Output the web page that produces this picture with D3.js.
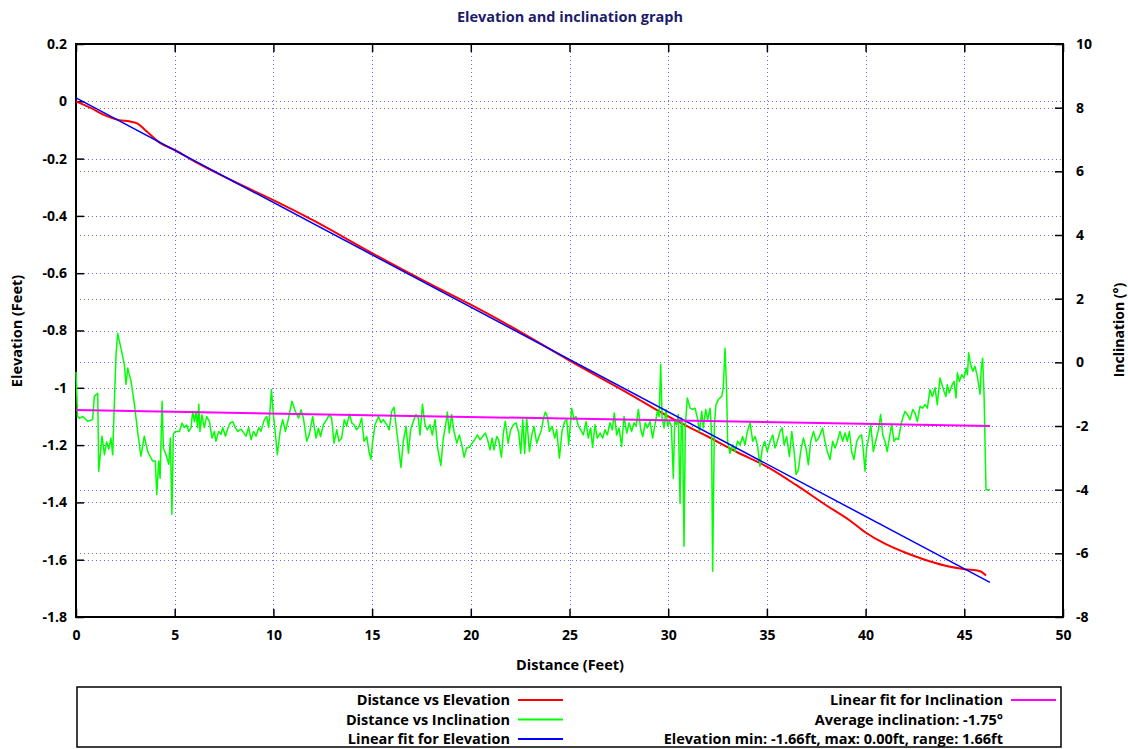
<!DOCTYPE html>
<html>
<head>
<meta charset="utf-8">
<script src="https://cdn.jsdelivr.net/npm/d3@7"></script>
<style>
  body { margin: 0; background: #fff; }
  svg text { font-family: "Open Sans", "Noto Sans", sans-serif; font-weight: bold; }
</style>
</head>
<body>
<div id="chart"></div>
<script>
// tick values
var distTicks = [0, 5, 10, 15, 20, 25, 30, 35, 40, 45, 50];
var elevTicks = [0.2, 0, -0.2, -0.4, -0.6, -0.8, -1, -1.2, -1.4, -1.6, -1.8];
var inclTicks = [10, 8, 6, 4, 2, 0, -2, -4, -6, -8];

// Distance vs Elevation (feet)
var elevDist = [0, 0.8, 1.5, 2.2, 2.7, 3.1, 3.5, 4.3, 5, 6, 8, 10, 12, 15, 18, 20, 22, 25,
    28, 30, 32, 33.5, 35, 36.5, 38, 39.2, 40, 41, 42, 43, 44, 45, 45.8, 46.1];
var elevVal = [0, -0.025, -0.05, -0.066, -0.07, -0.077, -0.1, -0.147, -0.17, -0.21, -0.28, -0.345,
    -0.415, -0.53, -0.64, -0.71, -0.785, -0.905, -1.02, -1.1, -1.17, -1.225, -1.275, -1.34,
    -1.41, -1.463, -1.505, -1.545, -1.575, -1.6, -1.62, -1.633, -1.64, -1.655];

// Linear fit for Elevation (end points)
var elevFitDist = [0, 46.3];
var elevFitVal = [0.012, -1.679];

// Linear fit for Inclination (end points)
var inclFitDist = [0, 46.3];
var inclFitVal = [-1.5, -2.0];

// Distance vs Inclination (degrees)
var incDist = [
    0.00, 0.08, 0.17, 0.34, 0.59, 0.84, 0.93, 1.10, 1.15, 1.32,
    1.44, 1.55, 1.66, 1.77, 1.86, 1.94, 2.03, 2.11, 2.28, 2.45,
    2.53, 2.62, 2.79, 2.96, 3.12, 3.29, 3.46, 3.63, 3.88, 4.02,
    4.09, 4.19, 4.26, 4.36, 4.43, 4.56, 4.70, 4.78, 4.86, 4.93,
    5.03, 5.24, 5.37, 5.49, 5.61, 5.71, 5.83, 5.91, 6.00, 6.08,
    6.16, 6.22, 6.28, 6.38, 6.50, 6.62, 6.76, 6.89, 7.01, 7.09,
    7.23, 7.35, 7.43, 7.57, 7.68, 7.80, 7.94, 8.07, 8.19, 8.36,
    8.48, 8.61, 8.75, 8.87, 8.99, 9.12, 9.26, 9.37, 9.54, 9.66,
    9.76, 9.83, 9.90, 10.00, 10.10, 10.20, 10.34, 10.47, 10.61, 10.73,
    10.94, 11.11, 11.28, 11.40, 11.52, 11.69, 11.82, 11.99, 12.16,
    12.28, 12.39, 12.53, 12.70, 12.83, 12.95, 13.07, 13.21, 13.32, 13.46,
    13.59, 13.71, 13.85, 13.97, 14.08, 14.22, 14.35, 14.47, 14.59, 14.73,
    14.84, 14.94, 15.03, 15.15, 15.32, 15.45, 15.57, 15.74, 15.87, 15.99,
    16.11, 16.21, 16.33, 16.46, 16.58, 16.72, 16.84, 16.95, 17.09, 17.22,
    17.34, 17.43, 17.55, 17.68, 17.80, 17.93, 18.05, 18.19, 18.32, 18.48,
    18.61, 18.73, 18.81, 18.91, 19.03, 19.15, 19.29, 19.42, 19.56, 19.66,
    19.79, 19.93, 20.06, 20.20, 20.33, 20.47, 20.60, 20.74, 20.87, 20.97,
    21.08, 21.18, 21.31, 21.41, 21.55, 21.65, 21.75, 21.89, 22.02, 22.16,
    22.29, 22.43, 22.53, 22.63, 22.73, 22.83, 22.97, 23.09, 23.20, 23.34,
    23.46, 23.58, 23.68, 23.78, 23.88, 23.98, 24.12, 24.25, 24.35, 24.49,
    24.62, 24.76, 24.86, 24.96,
    25.11, 25.23, 25.33, 25.45, 25.57, 25.70, 25.84, 25.95, 26.07, 26.17,
    26.29, 26.41, 26.55, 26.68, 26.80, 26.92, 27.05, 27.17, 27.27, 27.39,
    27.51, 27.64, 27.76, 27.90, 28.02, 28.15, 28.27, 28.37, 28.49, 28.61,
    28.71, 28.84, 28.94, 29.08, 29.21, 29.33, 29.45, 29.54, 29.62, 29.69,
    29.79, 29.89, 29.97, 30.06, 30.16, 30.26, 30.33, 30.43, 30.51, 30.60,
    30.67, 30.73, 30.80, 30.87, 30.97, 31.11, 31.24, 31.36, 31.48, 31.58,
    31.70, 31.78, 31.90, 32.00, 32.12, 32.20, 32.25, 32.34, 32.42, 32.54,
    32.71, 32.79, 32.88, 32.96, 33.01, 33.13, 33.27, 33.39, 33.51, 33.64,
    33.77, 33.89, 34.01, 34.15, 34.28, 34.40, 34.52, 34.65, 34.77, 34.89,
    35.02, 35.16, 35.30, 35.41, 35.53, 35.67, 35.77, 35.87, 36.00, 36.14,
    36.26, 36.38, 36.48, 36.60, 36.71, 36.85, 36.98, 37.10, 37.22, 37.36,
    37.49, 37.63,
    37.82, 37.94, 38.06, 38.20, 38.33, 38.45, 38.57, 38.70, 38.84, 38.96,
    39.07, 39.18, 39.29, 39.41, 39.55, 39.68, 39.80, 39.89, 39.97, 40.05,
    40.14, 40.26, 40.39, 40.51, 40.65, 40.76, 40.87, 40.98, 41.10, 41.20,
    41.32, 41.44, 41.54, 41.66, 41.78, 41.88, 42.00, 42.12, 42.25, 42.39,
    42.50, 42.62, 42.76, 42.89, 43.01, 43.13, 43.26, 43.38, 43.52, 43.63,
    43.77, 43.87, 43.97, 44.07, 44.14, 44.24, 44.36, 44.48, 44.58, 44.65,
    44.75, 44.87, 44.99, 45.09, 45.16, 45.22, 45.32, 45.43, 45.54, 45.66,
    45.80, 45.86, 45.93, 46.00, 46.10, 46.30
];
var incVal = [
    -0.30, -1.70, -1.76, -1.70, -1.85, -1.80, -1.07, -0.97, -3.42, -2.32,
    -2.90, -2.50, -2.72, -2.38, -2.90, -1.32, 0.25, 0.91, 0.44, -0.07,
    -0.69, -0.18, -0.60, -1.32, -2.17, -2.95, -2.32, -2.80, -3.10, -3.10,
    -4.15, -3.10, -3.64, -1.22, -2.70, -2.90, -3.20, -2.38, -4.77, -2.26,
    -2.17, -2.17, -1.91, -2.05, -1.97, -2.17, -2.05, -1.54, -1.86, -1.54,
    -2.05, -1.32, -2.17, -1.65, -2.05, -1.70, -1.86, -2.38, -2.17, -2.48,
    -2.17, -2.26, -2.05, -2.32, -2.10, -1.91, -1.86, -2.05, -2.17, -2.10,
    -2.20, -2.32, -2.05, -2.43, -2.17, -2.32, -2.05, -2.17, -1.80, -1.70,
    -2.05, -1.48, -0.85, -1.65, -2.26, -2.90, -2.17, -1.80, -2.17, -1.86,
    -1.22, -1.54, -1.75, -1.50, -1.75, -2.48, -2.26, -1.70, -2.38,
    -2.07, -2.33, -1.96, -1.80, -1.64, -1.75, -2.54, -2.12, -2.48, -2.38,
    -1.80, -2.01, -1.62, -1.90, -1.96, -2.12, -2.01, -1.75, -2.48, -2.33,
    -2.80, -3.05, -2.48, -1.96, -1.70, -1.90, -1.80, -1.96, -2.12, -1.54,
    -1.41, -1.96, -2.59, -3.30, -2.48, -2.01, -2.86, -2.12, -1.85, -1.64,
    -1.75, -2.28, -1.32, -1.96, -2.12, -1.96, -2.28, -1.80, -2.69, -3.24,
    -2.38, -1.96, -1.56, -2.22, -1.64, -2.17, -2.54, -2.28, -2.64, -2.98,
    -2.69, -2.67, -2.54, -2.43, -2.28, -2.43, -2.33, -2.22, -2.48, -2.75,
    -2.38, -2.75, -2.33, -2.43, -2.98, -2.22, -1.85, -2.54, -2.12, -1.96,
    -1.90, -2.22, -2.86, -1.80, -2.86, -1.75, -2.80, -2.28, -2.01, -2.54,
    -2.33, -2.12, -1.75, -1.56, -1.70, -2.17, -2.01, -2.38, -2.12, -3.01,
    -2.17, -1.85, -1.80, -2.59,
    -1.44, -1.80, -1.70, -2.00, -2.12, -2.28, -1.86, -2.38, -2.06, -2.67,
    -1.96, -2.38, -2.22, -2.38, -2.12, -2.28, -1.90, -2.12, -1.59, -2.28,
    -2.06, -2.64, -1.70, -2.22, -1.90, -2.17, -1.90, -2.00, -1.48, -2.12,
    -2.33, -1.90, -2.06, -1.86, -2.38, -1.96, -1.54, -1.70, -0.06, -1.75,
    -2.06, -1.48, -2.00, -1.86, -2.00, -3.64, -1.86, -1.96, -1.64, -4.43,
    -1.75, -2.06, -5.78, -1.96, -1.12, -1.44, -1.48, -1.44, -1.75, -2.17,
    -1.54, -2.06, -1.48, -1.80, -1.44, -2.28, -6.56, -1.96, -1.33, -1.17,
    -1.07, -0.80, 0.44, -0.91, -2.48, -2.86, -2.59, -2.80, -2.48, -2.59,
    -2.33, -2.59, -2.17, -1.90, -2.48, -2.33, -2.59, -3.27, -2.69, -2.48,
    -2.80, -2.48, -2.28, -2.69, -2.48, -2.17, -2.06, -2.59, -2.33, -2.96,
    -2.17, -2.80, -3.52, -3.37, -2.80, -2.38, -2.69, -3.22, -2.48, -2.17,
    -2.48, -2.38,
    -2.06, -2.48, -2.80, -3.05, -2.48, -2.69, -2.48, -2.17, -2.48, -2.22,
    -2.48, -2.17, -2.80, -3.05, -2.48, -2.33, -2.28, -2.80, -3.42, -2.69,
    -2.43, -1.96, -2.80, -2.48, -2.12, -1.64, -2.28, -2.48, -2.80, -2.38,
    -1.96, -2.48, -2.38, -2.43, -2.00, -1.75, -1.54, -1.64, -1.80, -1.48,
    -1.59, -1.86, -1.38, -1.44, -1.33, -1.44, -0.85, -1.07, -0.80, -1.33,
    -0.49, -0.70, -0.91, -1.07, -0.70, -0.96, -0.75, -0.60, -1.12, -0.33,
    -0.60, -0.39, -0.49, -0.18, -0.39, 0.30, -0.07, -0.28, -0.12, -0.44,
    -1.00, -0.18, 0.13, -1.00, -4.00, -4.00
];

// legend texts
var legendLeft = ["Distance vs Elevation", "Distance vs Inclination", "Linear fit for Elevation"];
var legendLeftColors = ["#ff0000", "#00ff00", "#0000ff"];
var legendRight = ["Linear fit for Inclination", "Average inclination: -1.75\u00b0",
    "Elevation min: -1.66ft, max: 0.00ft, range: 1.66ft"];
var legendRightColors = ["#ff00ff", null, null];

var W = 1128, H = 749;
var pL = 76, pR = 1063, pT = 44, pB = 617; // plot box

var svg = d3.select("#chart").append("svg")
    .attr("width", W)
    .attr("height", H);

var x = d3.scaleLinear().domain([0, 50]).range([pL, pR]);
var yL = d3.scaleLinear().domain([-1.8, 0.2]).range([pB, pT]);
var yR = d3.scaleLinear().domain([-8, 10]).range([pB, pT]);

var fmt = d => String(+d.toFixed(1));

// grid
var grid = svg.append("g")
    .attr("stroke", "#6a6aff")
    .attr("stroke-width", 1)
    .attr("stroke-dasharray", "1,3");

grid.selectAll(".gx")
    .data(distTicks.slice(1, -1))
    .enter().append("line")
    .attr("x1", d => Math.round(x(d)) + 0.5).attr("x2", d => Math.round(x(d)) + 0.5)
    .attr("y1", pT).attr("y2", pB);

grid.selectAll(".gl")
    .data(elevTicks.slice(1, -1))
    .enter().append("line")
    .attr("x1", pL).attr("x2", pR)
    .attr("y1", d => Math.round(yL(d)) + 0.5).attr("y2", d => Math.round(yL(d)) + 0.5);

grid.selectAll(".gr")
    .data(inclTicks.slice(1, -1))
    .enter().append("line")
    .attr("x1", pL).attr("x2", pR)
    .attr("y1", d => Math.round(yR(d)) + 0.5).attr("y2", d => Math.round(yR(d)) + 0.5);

// axes
function styleAxis(g) {
    g.select(".domain").remove();
    g.selectAll(".tick line").attr("stroke", "#000").attr("stroke-width", 1.5);
    g.selectAll("text").attr("fill", "#000").attr("font-size", 14);
}

svg.append("g")
    .attr("transform", "translate(0," + pB + ")")
    .call(d3.axisBottom(x).tickValues(distTicks).tickSize(-8).tickPadding(13).tickFormat(fmt))
    .call(styleAxis);

svg.append("g")
    .attr("transform", "translate(0," + pT + ")")
    .call(d3.axisTop(x).tickValues(distTicks).tickSize(-8).tickFormat(""))
    .call(styleAxis);

svg.append("g")
    .attr("transform", "translate(" + pL + ",0)")
    .call(d3.axisLeft(yL).tickValues(elevTicks).tickSize(-8).tickPadding(9).tickFormat(fmt))
    .call(styleAxis);

svg.append("g")
    .attr("transform", "translate(" + pR + ",0)")
    .call(d3.axisRight(yR).tickValues(inclTicks).tickSize(-8).tickPadding(13).tickFormat(fmt))
    .call(styleAxis);

// frame
svg.append("rect")
    .attr("x", pL).attr("y", pT)
    .attr("width", pR - pL).attr("height", pB - pT)
    .attr("fill", "none")
    .attr("stroke", "#000")
    .attr("stroke-width", 2);

// lines
var elevLine = d3.line().x(d => x(d[0])).y(d => yL(d[1]));
var inclLine = d3.line().x(d => x(d[0])).y(d => yR(d[1]));

var n = Math.min(incDist.length, incVal.length);

svg.append("path")
    .datum(d3.zip(elevDist, elevVal))
    .attr("fill", "none")
    .attr("stroke", "#ff0000")
    .attr("stroke-width", 2)
    .attr("d", d3.line().x(d => x(d[0])).y(d => yL(d[1])).curve(d3.curveMonotoneX));

svg.append("path")
    .datum(d3.zip(incDist.slice(0, n), incVal.slice(0, n)))
    .attr("fill", "none")
    .attr("stroke", "#00ff00")
    .attr("stroke-width", 1.5)
    .attr("stroke-linejoin", "round")
    .attr("d", inclLine);

svg.append("path")
    .datum(d3.zip(elevFitDist, elevFitVal))
    .attr("fill", "none")
    .attr("stroke", "#0000ff")
    .attr("stroke-width", 1.5)
    .attr("d", elevLine);

svg.append("path")
    .datum(d3.zip(inclFitDist, inclFitVal))
    .attr("fill", "none")
    .attr("stroke", "#ff00ff")
    .attr("stroke-width", 2)
    .attr("d", inclLine);

// title and axis labels
svg.append("text")
    .attr("x", 570).attr("y", 22)
    .attr("text-anchor", "middle")
    .attr("font-size", 14.5)
    .attr("fill", "#1c1c6c")
    .text("Elevation and inclination graph");

svg.append("text")
    .attr("x", 570).attr("y", 670)
    .attr("text-anchor", "middle")
    .attr("font-size", 14.5)
    .text("Distance (Feet)");

svg.append("text")
    .attr("transform", "translate(22,331) rotate(-90)")
    .attr("text-anchor", "middle")
    .attr("font-size", 14.5)
    .text("Elevation (Feet)");

svg.append("text")
    .attr("transform", "translate(1124,330) rotate(-90)")
    .attr("text-anchor", "middle")
    .attr("font-size", 14)
    .text("Inclination (\u00b0)");

// legend
svg.append("rect")
    .attr("x", 77).attr("y", 687)
    .attr("width", 984).attr("height", 60)
    .attr("fill", "none")
    .attr("stroke", "#000")
    .attr("stroke-width", 1.5);

var rowY = [700, 719.5, 739];

legendLeft.forEach(function(t, i) {
    svg.append("text")
        .attr("x", 510).attr("y", rowY[i])
        .attr("dy", "0.35em")
        .attr("text-anchor", "end")
        .attr("font-size", 14.5)
        .text(t);
    svg.append("line")
        .attr("x1", 518).attr("x2", 563)
        .attr("y1", rowY[i]).attr("y2", rowY[i])
        .attr("stroke", legendLeftColors[i])
        .attr("stroke-width", 2);
});

legendRight.forEach(function(t, i) {
    svg.append("text")
        .attr("x", 1003).attr("y", rowY[i])
        .attr("dy", "0.35em")
        .attr("text-anchor", "end")
        .attr("font-size", 14.5)
        .text(t);
    if (legendRightColors[i]) {
        svg.append("line")
            .attr("x1", 1011).attr("x2", 1056)
            .attr("y1", rowY[i]).attr("y2", rowY[i])
            .attr("stroke", legendRightColors[i])
            .attr("stroke-width", 2);
    }
});
</script>
</body>
</html>
